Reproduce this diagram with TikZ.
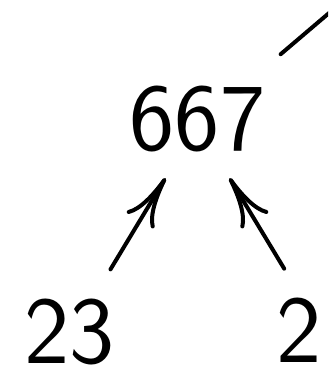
\documentclass[tikz,border=0pt]{standalone}
\usetikzlibrary{arrows.meta,calc}
\begin{document}
\begin{tikzpicture}[x=0.5pt,y=-0.5pt,
  num/.style={font=\fontsize{48}{58}\selectfont\sffamily, inner sep=0pt, anchor=base, text height=33pt, text depth=0pt},
  conn/.style={line width=2pt, line cap=round},
  arr/.style={conn, -{Computer Modern Rightarrow[length=25pt,width=16pt,line cap=round]}}]
\useasboundingbox (0,0) rectangle (328,368);
\clip (0,0) rectangle (328,368);
\node[num] (a) at (197.5,151) {667};
\node[num] (b) at (69.7,363) {23};
\node[num] (c) at (299,362.3) {2};
\coordinate (ac) at ([yshift=13pt]a.base);
\coordinate (bc) at ([yshift=13pt]b.base);
\coordinate (cc) at ([xshift=13pt,yshift=13pt]c.base);
\coordinate (p) at ($(ac)+(235,-200)$);
\draw[conn, shorten <=54.6pt] (ac) -- (p);
\draw[arr, shorten <=39.5pt, shorten >=31pt] (bc) -- (ac);
\draw[arr, shorten <=39.5pt, shorten >=31pt] (cc) -- (ac);
\end{tikzpicture}
\end{document}
